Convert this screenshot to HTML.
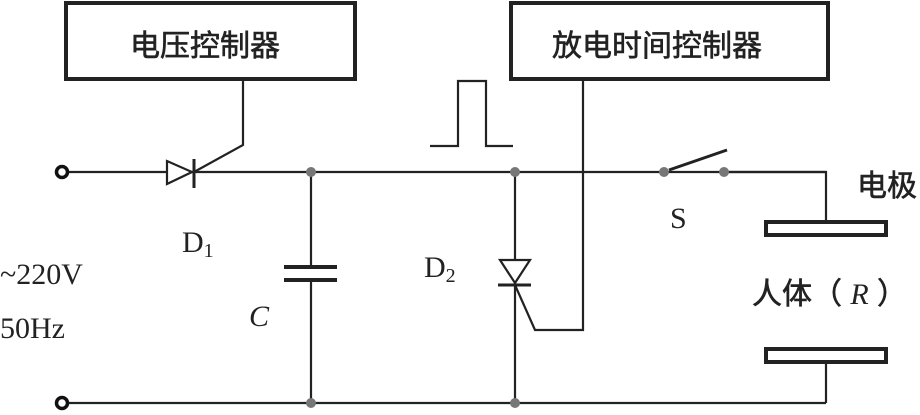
<!DOCTYPE html>
<html><head><meta charset="utf-8"><style>
body{margin:0;background:#fff;}
svg{display:block;}
.t{font-family:"Liberation Serif",serif;font-size:30px;fill:#222;}
.c{font-family:"Liberation Sans","Noto Sans CJK SC",sans-serif;font-size:30px;fill:#222;stroke:#222;stroke-width:0.6;}
</style></head><body>
<svg width="920" height="415" viewBox="0 0 920 415" xmlns="http://www.w3.org/2000/svg">
<g fill="none" stroke="#222" stroke-width="2.2">
<rect x="66" y="3" width="289" height="76" stroke-width="4"/>
<rect x="511" y="3" width="317" height="76" stroke-width="4"/>
<line x1="68" y1="172" x2="826" y2="172"/>
<line x1="68" y1="403" x2="826" y2="403"/>
<polyline points="727,172 826,172 826,222"/>
<polyline points="826,364 826,403"/>
<rect x="766" y="222" width="120" height="13" stroke-width="4"/>
<rect x="766" y="349" width="120" height="13" stroke-width="4"/>
<polygon points="167,161 167,184 192,172" fill="#fff"/>
<line x1="194" y1="159" x2="194" y2="188" stroke-width="3"/>
<polyline points="194,172 243,145 243,79"/>
<line x1="311" y1="172" x2="311" y2="267"/>
<line x1="311" y1="280" x2="311" y2="403"/>
<line x1="284" y1="267" x2="337" y2="267" stroke-width="4"/>
<line x1="284" y1="280" x2="337" y2="280" stroke-width="4"/>
<line x1="515" y1="172" x2="515" y2="403"/>
<polygon points="500,260 530,260 515,283" fill="#fff"/>
<line x1="498" y1="285" x2="531" y2="285" stroke-width="3"/>
<polyline points="515,285 535,330 583,330 583,79"/>
<polyline points="430,146 458,146 458,81 486,81 486,146 513,146"/>
<line x1="669" y1="170" x2="727" y2="150" stroke-width="3"/>
</g>
<circle cx="62" cy="172" r="5.5" fill="#fff" stroke="#111" stroke-width="3.5"/>
<circle cx="62" cy="403" r="5.5" fill="#fff" stroke="#111" stroke-width="3.5"/>
<g fill="#777">
<circle cx="311" cy="172" r="5"/><circle cx="311" cy="403" r="5"/>
<circle cx="515" cy="172" r="5"/><circle cx="515" cy="403" r="5"/>
<circle cx="664" cy="172" r="5"/><circle cx="724" cy="172" r="5"/>
</g>
<text class="c" x="130" y="56">电压控制器</text>
<text class="c" x="552" y="56">放电时间控制器</text>
<text class="c" x="857" y="196">电极</text>
<text class="c" x="752" y="304">人体（ <tspan font-family="Liberation Serif" font-style="italic" stroke-width="0">R</tspan> ）</text>
<text class="t" x="670" y="228">S</text>
<text class="t" x="424" y="277">D<tspan font-size="20" dy="5">2</tspan></text>
<text class="t" x="182" y="252">D<tspan font-size="20" dy="5">1</tspan></text>
<text class="t" x="249" y="326" font-style="italic">C</text>
<text class="t" x="0" y="284">~220V</text>
<text class="t" x="0" y="338">50Hz</text>
</svg>
</body></html>
